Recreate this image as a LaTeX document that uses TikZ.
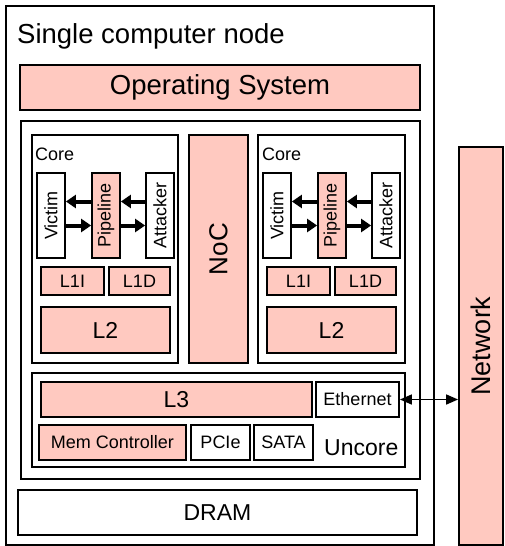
\documentclass[tikz,border=0pt]{standalone}
\usepackage{fontspec}
\setmainfont{Liberation Sans}
\usepackage{xcolor}
\usetikzlibrary{arrows.meta}
\definecolor{salmon}{RGB}{255,201,192}

\begin{document}
\begin{tikzpicture}[x=1pt, y=-1pt,
    box/.style={draw, line width=1.8pt, fill=white, inner sep=0pt},
    pinkbox/.style={box, fill=salmon},
    small/.style={font=\fontsize{18}{20}\selectfont},
    mid/.style={font=\fontsize{23}{25}\selectfont},
    big/.style={font=\fontsize{27.5}{30}\selectfont},
    fat/.style={line width=4pt, -{Triangle[length=10pt,width=13pt]}}]
  \useasboundingbox (0,0) rectangle (504,546);

  % computer node
  \node[box, minimum width=428pt, minimum height=539pt] (node) at (220,275.5) {};
  \node[big, anchor=base west, inner sep=0pt] (title) at (17,43) {Single computer node};
  \node[pinkbox, big, minimum width=400pt, minimum height=45pt] (os) at (220,87.5) {Operating System};
  \node[box, minimum width=399pt, minimum height=358pt] (chip) at (220.5,300) {};

  % core 1
  \node[box, minimum width=146pt, minimum height=228pt] (core1) at (105,249) {};
  \node[small, anchor=base west, inner sep=0pt] (corelabel1) at (35,160) {Core};
  \node[box, small, minimum width=28pt, minimum height=85pt] (vic1) at (51,215.5) {\rotatebox{90}{Victim}};
  \node[pinkbox, small, minimum width=28pt, minimum height=85pt] (pipe1) at (106,215.5) {\rotatebox{90}{Pipeline}};
  \node[box, small, minimum width=28pt, minimum height=85pt] (att1) at (160,215.5) {\rotatebox{90}{Attacker}};
  \draw[fat] ([yshift=14pt]pipe1.west) -- ([yshift=14pt]vic1.east);
  \draw[fat] ([yshift=-10pt]vic1.east) -- ([yshift=-10pt]pipe1.west);
  \draw[fat] ([yshift=14pt]att1.west) -- ([yshift=14pt]pipe1.east);
  \draw[fat] ([yshift=-10pt]pipe1.east) -- ([yshift=-10pt]att1.west);
  \node[pinkbox, small, minimum width=63pt, minimum height=28pt] (lii1) at (72.5,281) {L1I};
  \node[pinkbox, small, minimum width=61pt, minimum height=28pt] (lid1) at (139.5,281) {L1D};
  \node[pinkbox, mid, minimum width=129pt, minimum height=46pt] (ltwo1) at (105.5,330) {L2};

  % network on chip
  \node[pinkbox, font=\fontsize{26}{28}\selectfont, minimum width=59pt, minimum height=228pt] (noc) at (218.5,249) {\rotatebox{90}{NoC}};

  % core 2
  \node[box, minimum width=147pt, minimum height=228pt] (core2) at (331.5,249) {};
  \node[small, anchor=base west, inner sep=0pt] (corelabel2) at (262,160) {Core};
  \node[box, small, minimum width=28pt, minimum height=85pt] (vic2) at (277,215.5) {\rotatebox{90}{Victim}};
  \node[pinkbox, small, minimum width=28pt, minimum height=85pt] (pipe2) at (332,215.5) {\rotatebox{90}{Pipeline}};
  \node[box, small, minimum width=28pt, minimum height=85pt] (att2) at (386,215.5) {\rotatebox{90}{Attacker}};
  \draw[fat] ([yshift=14pt]pipe2.west) -- ([yshift=14pt]vic2.east);
  \draw[fat] ([yshift=-10pt]vic2.east) -- ([yshift=-10pt]pipe2.west);
  \draw[fat] ([yshift=14pt]att2.west) -- ([yshift=14pt]pipe2.east);
  \draw[fat] ([yshift=-10pt]pipe2.east) -- ([yshift=-10pt]att2.west);
  \node[pinkbox, small, minimum width=63pt, minimum height=28pt] (lii2) at (298.5,281) {L1I};
  \node[pinkbox, small, minimum width=61pt, minimum height=28pt] (lid2) at (365.5,281) {L1D};
  \node[pinkbox, mid, minimum width=129pt, minimum height=46pt] (ltwo2) at (331.5,330) {L2};

  % uncore
  \node[box, minimum width=373pt, minimum height=94pt] (uncore) at (218.5,420) {};
  \node[pinkbox, mid, minimum width=271pt, minimum height=35pt] (lthree) at (176.5,399.5) {L3};
  \node[box, small, minimum width=83pt, minimum height=35pt] (eth) at (357.5,399.5) {Ethernet};
  \node[pinkbox, small, minimum width=147pt, minimum height=35pt] (memctl) at (112.5,442.5) {Mem Controller};
  \node[box, small, minimum width=59pt, minimum height=35pt] (pcie) at (220.5,442.5) {PCIe};
  \node[box, small, minimum width=59pt, minimum height=35pt] (sata) at (283.5,442.5) {SATA};
  \node[mid, anchor=base west, inner sep=0pt] (uncorelabel) at (324,455) {Uncore};

  \node[box, font=\fontsize{23}{25}\selectfont, minimum width=399pt, minimum height=45pt] (dram) at (217.5,512.5) {DRAM};

  % network
  \node[pinkbox, font=\fontsize{27}{29}\selectfont, minimum width=44pt, minimum height=398pt] (net) at (481,346) {\rotatebox{90}{Network}};
  \draw[line width=1.6pt, {Triangle[length=12pt,width=10pt]}-{Triangle[length=12pt,width=10pt]}] (eth.east) -- (eth.east -| net.west);
\end{tikzpicture}
\end{document}
